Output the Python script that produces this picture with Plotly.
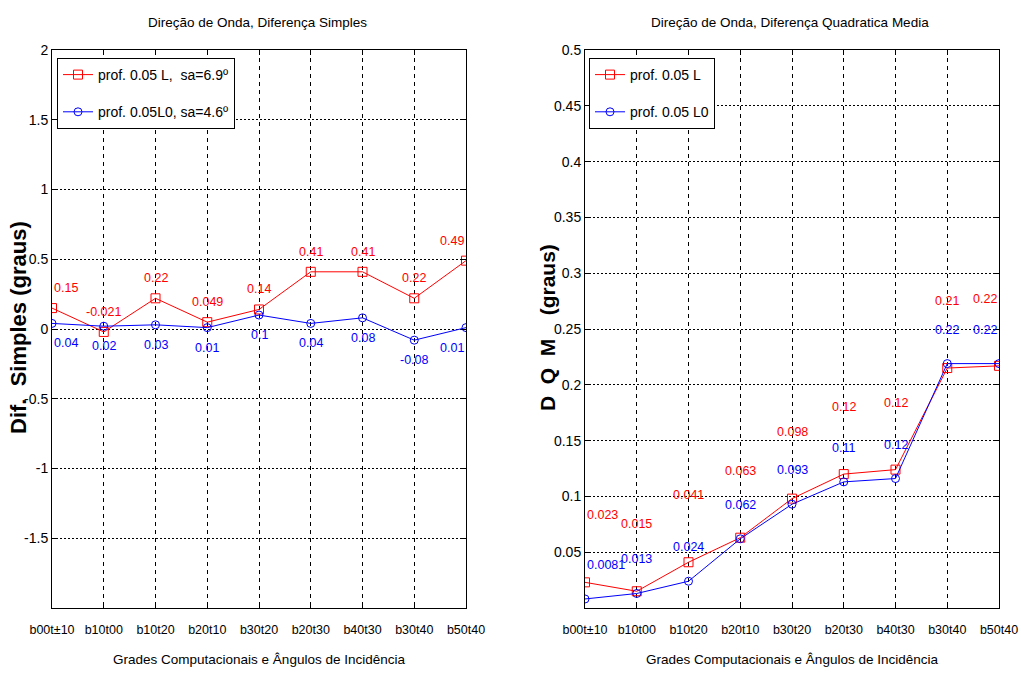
import plotly.graph_objects as go

# ---- data ----
grids = ["b00t±10", "b10t00", "b10t20", "b20t10", "b30t20",
         "b20t30", "b40t30", "b30t40", "b50t40"]

simples_L = [0.15, -0.021, 0.22, 0.049, 0.14, 0.41, 0.41, 0.22, 0.49]
simples_L0 = [0.04, 0.02, 0.03, 0.01, 0.10, 0.04, 0.08, -0.08, 0.01]
simples_L_txt = ["0.15", "-0.021", "0.22", "0.049", "0.14", "0.41", "0.41", "0.22", "0.49"]
simples_L0_txt = ["0.04", "0.02", "0.03", "0.01", "0.1", "0.04", "0.08", "-0.08", "0.01"]

dqm_L = [0.023, 0.015, 0.041, 0.063, 0.098, 0.120, 0.124, 0.215, 0.217]
dqm_L0 = [0.0081, 0.013, 0.024, 0.062, 0.093, 0.113, 0.116, 0.219, 0.219]
dqm_L_txt = ["0.023", "0.015", "0.041", "0.063", "0.098", "0.12", "0.12", "0.21", "0.22"]
dqm_L0_txt = ["0.0081", "0.013", "0.024", "0.062", "0.093", "0.11", "0.12", "0.22", "0.22"]

left_yticks = [-1.5, -1, -0.5, 0, 0.5, 1, 1.5, 2]
left_yticktext = ["-1.5", "-1", "-0.5", "0", "0.5", "1", "1.5", "2"]
right_yticks = [0.05, 0.1, 0.15, 0.2, 0.25, 0.3, 0.35, 0.4, 0.45, 0.5]
right_yticktext = ["0.05", "0.1", "0.15", "0.2", "0.25", "0.3", "0.35", "0.4", "0.45", "0.5"]

# ---- style ----
W, H = 1021, 676
SANS = "Liberation Sans, Arial, sans-serif"
RED = "#FF0000"
BLUE = "#0000FF"
NB = "\u00a0"


def px_x(p):
    return p / W


def px_y(p):
    return 1 - p / H


fig = go.Figure()

fig.add_trace(go.Scatter(
    x=grids, y=simples_L, mode="lines+markers",
    name="prof. 0.05 L," + NB * 2 + "sa=6.9º",
    line=dict(color=RED, width=1),
    marker=dict(symbol="square-open", size=9, color=RED, line=dict(width=1)),
    xaxis="x", yaxis="y", legend="legend", legendgroup="a"))
fig.add_trace(go.Scatter(
    x=grids, y=simples_L0, mode="lines+markers",
    name="prof. 0.05L0, sa=4.6º",
    line=dict(color=BLUE, width=1),
    marker=dict(symbol="circle-open", size=8, color=BLUE, line=dict(width=1)),
    xaxis="x", yaxis="y", legend="legend", legendgroup="b"))

fig.add_trace(go.Scatter(
    x=grids, y=dqm_L, mode="lines+markers",
    name="prof. 0.05 L",
    line=dict(color=RED, width=1),
    marker=dict(symbol="square-open", size=9, color=RED, line=dict(width=1)),
    xaxis="x2", yaxis="y2", legend="legend2", legendgroup="c"))
fig.add_trace(go.Scatter(
    x=grids, y=dqm_L0, mode="lines+markers",
    name="prof. 0.05 L0",
    line=dict(color=BLUE, width=1),
    marker=dict(symbol="circle-open", size=8, color=BLUE, line=dict(width=1)),
    xaxis="x2", yaxis="y2", legend="legend2", legendgroup="d"))

annotations = []


def add_labels(xref, yref, values, texts, color, shift):
    n = len(values)
    for i, (v, t) in enumerate(zip(values, texts)):
        anchor = "left" if i == 0 else ("right" if i == n - 1 else "center")
        annotations.append(dict(
            x=grids[i], y=v, xref=xref, yref=yref, text=t, showarrow=False,
            xanchor=anchor, yanchor="middle", yshift=shift,
            font=dict(family=SANS, size=12.5, color=color)))


add_labels("x", "y", simples_L, simples_L_txt, RED, 20)
add_labels("x", "y", simples_L0, simples_L0_txt, BLUE, -20)
add_labels("x2", "y2", dqm_L, dqm_L_txt, RED, 67)
add_labels("x2", "y2", dqm_L0, dqm_L0_txt, BLUE, 34)

# subplot titles
annotations.append(dict(x=px_x(257), y=px_y(22), xref="paper", yref="paper",
                        text="Direção de Onda, Diferença Simples", showarrow=False,
                        xanchor="center", yanchor="middle",
                        font=dict(family=SANS, size=13.5, color="black")))
annotations.append(dict(x=px_x(790), y=px_y(22), xref="paper", yref="paper",
                        text="Direção de Onda, Diferença Quadratica Media", showarrow=False,
                        xanchor="center", yanchor="middle",
                        font=dict(family=SANS, size=13.5, color="black")))

# y-axis titles
annotations.append(dict(x=px_x(18), y=px_y(328), xref="paper", yref="paper",
                        text="<b>Dif." + NB * 2 + "Simples (graus)</b>", showarrow=False,
                        textangle=-90, xanchor="center", yanchor="middle",
                        font=dict(family=SANS, size=22, color="black")))
annotations.append(dict(x=px_x(547), y=px_y(328), xref="paper", yref="paper",
                        text="<b>D" + NB * 2 + "Q" + NB * 2 + "M" + NB * 4 + "(graus)</b>",
                        showarrow=False, textangle=-90, xanchor="center", yanchor="middle",
                        font=dict(family=SANS, size=21, color="black")))

line_common = dict(
    showline=True, linecolor="black", linewidth=1, mirror="ticks",
    ticks="inside", ticklen=5, tickcolor="black",
    showgrid=True, gridcolor="black", gridwidth=1,
    zeroline=False, automargin=False,
)

xdom1 = [px_x(52), px_x(466)]
xdom2 = [px_x(585), px_x(999)]
ydom = [px_y(608), px_y(50)]

xtitle = dict(text="Grades Computacionais e Ângulos de Incidência",
              font=dict(family=SANS, size=13.5, color="black"), standoff=18)
xtick_font = dict(family=SANS, size=12.5, color="black")
ytick_font = dict(family=SANS, size=14, color="black")

fig.update_layout(
    width=W, height=H, margin=dict(l=0, r=0, t=0, b=0, autoexpand=False),
    paper_bgcolor="white", plot_bgcolor="white",
    showlegend=True,
    xaxis=dict(**line_common, tickfont=xtick_font, domain=xdom1, anchor="y",
               type="category", range=[0, 8], griddash="4px,4px",
               ticklabelstandoff=10, tickangle=0, title=xtitle),
    yaxis=dict(**line_common, tickfont=ytick_font, domain=ydom, anchor="x",
               range=[-2, 2], tickvals=left_yticks, ticktext=left_yticktext,
               griddash="2px,2px"),
    xaxis2=dict(**line_common, tickfont=xtick_font, domain=xdom2, anchor="y2",
                type="category", range=[0, 8], griddash="4px,4px",
                ticklabelstandoff=10, tickangle=0, title=xtitle),
    yaxis2=dict(**line_common, tickfont=ytick_font, domain=ydom, anchor="x2",
                range=[0, 0.5], tickvals=right_yticks, ticktext=right_yticktext,
                griddash="2px,2px"),
    legend=dict(x=px_x(57), y=px_y(58), xanchor="left", yanchor="top",
                bgcolor="white", bordercolor="black", borderwidth=1,
                traceorder="grouped", tracegroupgap=16,
                font=dict(family=SANS, size=14, color="black")),
    legend2=dict(x=px_x(589), y=px_y(58), xanchor="left", yanchor="top",
                 bgcolor="white", bordercolor="black", borderwidth=1,
                 traceorder="grouped", tracegroupgap=16,
                 font=dict(family=SANS, size=14, color="black")),
    annotations=annotations,
)

fig.write_html("out.html")
